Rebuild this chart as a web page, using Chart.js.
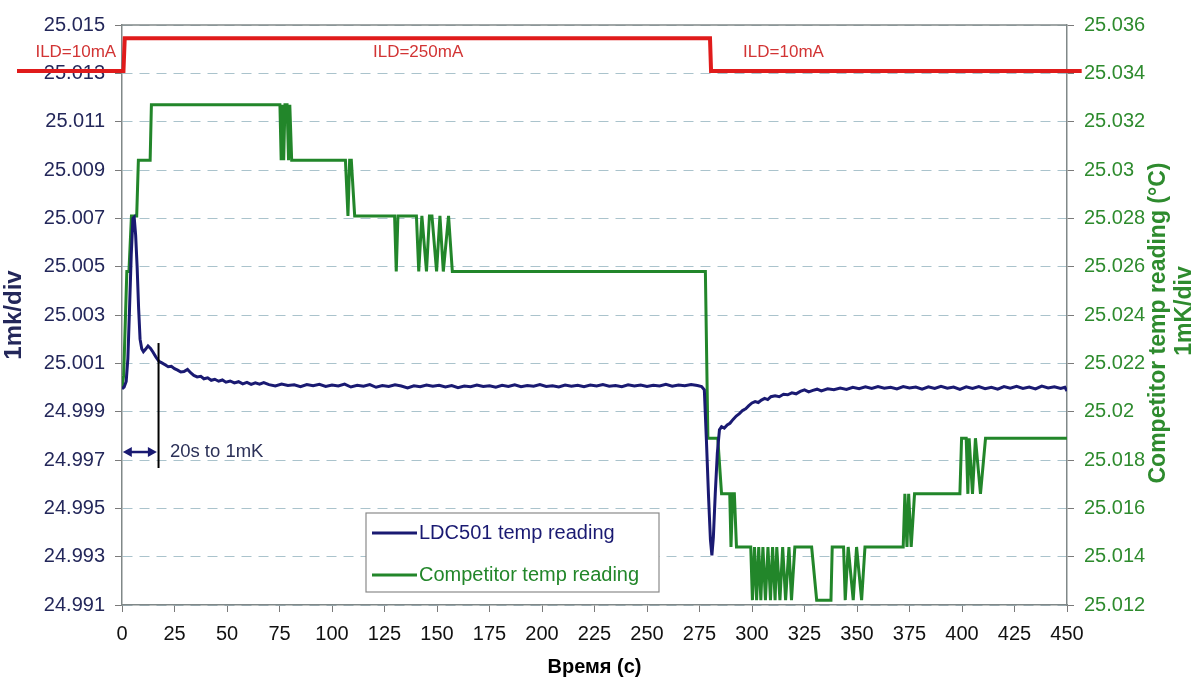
<!DOCTYPE html>
<html>
<head>
<meta charset="utf-8">
<script src="https://cdn.jsdelivr.net/npm/chart.js@4.4.1/dist/chart.umd.min.js"></script>
<style>
  html, body { margin: 0; padding: 0; background: #fff; }
</style>
</head>
<body>
<canvas id="chart" width="1196" height="684"></canvas>
<script>
// axis ticks
const xTicks = [0, 25, 50, 75, 100, 125, 150, 175, 200, 225, 250, 275, 300, 325, 350, 375, 400, 425, 450];
const leftTicks = [24.991, 24.993, 24.995, 24.997, 24.999, 25.001, 25.003, 25.005, 25.007, 25.009, 25.011, 25.013, 25.015];
const rightTicks = [25.012, 25.014, 25.016, 25.018, 25.02, 25.022, 25.024, 25.026, 25.028, 25.03, 25.032, 25.034, 25.036];

// LDC501 reading (left axis)
const ldcTime = [0, 1, 2, 2.8, 3.6, 4.4, 5.2, 5.8, 6.5, 7.2, 7.9, 8.6, 9.4, 10.2, 11.2, 12.4, 13.6, 14.8, 16.2, 17.6,
  19, 20.5, 22, 23.5, 25, 26.5, 28, 29.5, 31.2, 32.8, 34.2, 35.8, 37.5, 39, 40.8, 42.5, 44.2, 46, 47.8, 49.5,
  51.5, 53.5, 55.5, 57.5, 59.5, 61.5, 63.5, 65.5, 67.5,
  70, 73, 76, 79, 82, 85, 88, 91, 94, 97, 100, 103, 106, 109, 112, 115, 118, 121, 124, 127, 130, 133, 136, 139,
  142, 145, 148, 151, 154, 157, 160, 163, 166, 169, 172, 175, 178, 181, 184, 187, 190, 193, 196, 199, 202, 205,
  208, 211, 214, 217, 220, 223, 226, 229, 232, 235, 238, 241, 244, 247, 250, 253, 256, 259, 262, 265, 268, 271, 274,
  276, 277.3, 278.3, 279.3, 280.2, 280.9, 281.6, 282.5, 283.5, 284.5, 285.5, 286.8, 288.2, 289.5, 291, 292.5, 294,
  295.5, 297, 298.5, 300, 301.5, 303, 304.5, 306, 307.5, 309, 311, 313, 315, 317, 319, 321, 323, 325, 327, 329, 331,
  333, 336, 339, 342, 345, 348, 351, 354, 357, 360, 363, 366, 369, 372, 375, 378, 381, 384, 387, 390, 393, 396, 399,
  402, 405, 408, 411, 414, 417, 420, 423, 426, 429, 432, 435, 438, 441, 444, 447, 449, 450];
const ldcTemp = [24.99995, 25.00002, 25.00025, 25.0012, 25.0033, 25.0055, 25.007, 25.00705, 25.0063, 25.005, 25.0033,
  25.002, 25.0016, 25.00148, 25.00158, 25.00172, 25.00162, 25.00146, 25.00125, 25.00108,
  25.00102, 25.00094, 25.00086, 25.00088, 25.00078, 25.00072, 25.00064, 25.00066, 25.00075, 25.0006, 25.0005,
  25.00044, 25.00046, 25.00036, 25.0004, 25.0003, 25.00034, 25.00026, 25.00031, 25.00022,
  25.00027, 25.00019, 25.00024, 25.00015, 25.00021, 25.00013, 25.00019, 25.00014, 25.0002,
  25.00012, 25.00006, 25.00014, 25.00008, 25.00011, 25.00003, 25.00012, 25.00007, 25.00013, 25.00004, 25.0001,
  25.00006, 25.00014, 25.00002, 25.00009, 25.00005, 25.00012, 25.00001, 25.00008, 25.00004, 25.00011, 25.00006,
  24.99998, 25.00007, 25.00003, 25.0001, 25.00005, 25.00009, 25.00002, 25.00008, 24.99999, 25.00006, 25.00003,
  25.0001, 25.00004, 25.00007, 25.00001, 25.00009, 25.00004, 25.00011, 25.00003, 25.00008, 25.00005, 25.00012,
  25.00004, 25.00007, 25.00002, 25.0001, 25.00005, 25.00009, 25.00003, 25.0001, 25.00006, 25.00012, 25.00005,
  25.00008, 25.00003, 25.00011, 25.00006, 25.0001, 25.00004, 25.00009, 25.00006, 25.00013, 25.00005, 25.0001,
  25.00007, 25.00012, 25.00008,
  25.00004, 24.9999, 24.9978, 24.9955, 24.9937, 24.99305, 24.9938, 24.9956, 24.9973, 24.99825, 24.99838, 24.99832,
  24.99845, 24.99852, 24.99868, 24.99882, 24.99892, 24.99905, 24.99912, 24.99925, 24.99936, 24.99942, 24.99938,
  24.99948, 24.99955, 24.9995, 24.99962, 24.99966, 24.99962, 24.99972, 24.9997, 24.99978, 24.99974, 24.99984,
  24.9999, 24.99982, 24.99988, 24.99993, 24.99986, 24.99995, 24.99991, 24.99998, 24.99992, 25.00001, 24.99995,
  25.00003, 24.99996, 25.00004, 24.99997, 25.00001, 24.99994, 25.00004, 24.99998, 25.00002, 24.99993, 25.00003,
  24.99996, 25.00005, 24.99997, 25.00002, 24.99992, 25.00003, 24.99996, 25.00004, 24.99995, 25.00001, 24.99993,
  25.00004, 24.99997, 25.00005, 24.99996, 25.00002, 24.99994, 25.00006, 24.99998, 25.00003, 24.99996, 25.00001,
  24.99986];

// Competitor reading (right axis)
const compTime = [0, 0.8, 2.3, 3.3, 4.5, 7, 7.8, 13.4, 14, 75.2, 75.8, 76.4, 77, 77.6, 78.6, 79.3, 79.9, 80.8,
  106.4, 107.6, 108.4, 109.2, 110.8, 129.8, 130.6, 131.4, 140.2, 141.3, 142.8, 145, 146.4, 147.6, 149.8, 151.4,
  153, 155.5, 157.3, 277.8, 279, 283.7, 285.5, 289.4, 290, 290.8, 291.6, 292.6, 299.4, 300.2, 301.2, 302.2, 303.2,
  304.2, 305.2, 306.4, 307.6, 308.8, 309.8, 311, 311.8, 313.3, 314.6, 316, 317.6, 318.8, 320.4, 328.4, 330.8,
  337.6, 338.2, 343.6, 344.4, 345.8, 348.2, 349.8, 352.2, 353.8, 372, 372.8, 373.8, 374.6, 375.8, 377.4, 399,
  399.8, 402, 402.8, 403.4, 405, 406.4, 408.8, 411.2, 450];
const compTemp = [25.021, 25.0215, 25.0258, 25.0258, 25.0281, 25.0281, 25.0304, 25.0304, 25.0327, 25.0327, 25.0304,
  25.0327, 25.0304, 25.0327, 25.0327, 25.0304, 25.0327, 25.0304,
  25.0304, 25.0281, 25.0304, 25.0304, 25.0281, 25.0281, 25.0258, 25.0281, 25.0281, 25.0258, 25.0281, 25.0258,
  25.0281, 25.0281, 25.0258, 25.0281, 25.0258, 25.0281, 25.0258, 25.0258, 25.0189, 25.0189, 25.0166, 25.0166,
  25.0144, 25.0166, 25.0166, 25.0144, 25.0144, 25.0122, 25.0144, 25.0122, 25.0144, 25.0122, 25.0144, 25.0122,
  25.0144, 25.0122, 25.0144, 25.0122, 25.0144, 25.0122, 25.0144, 25.0122, 25.0144, 25.0122, 25.0144, 25.0144,
  25.0122, 25.0122, 25.0144, 25.0144, 25.0122, 25.0144, 25.0122, 25.0144, 25.0122, 25.0144, 25.0144, 25.0166,
  25.0144, 25.0166, 25.0144, 25.0166, 25.0166, 25.0189, 25.0189, 25.0166, 25.0189, 25.0166, 25.0189, 25.0166,
  25.0189, 25.0189];

// laser diode current steps (drawn on left axis)
const ildTime = [-50, 0.7, 1.3, 280, 280.5, 457];
const ildLevel = [25.0131, 25.0131, 25.01445, 25.01445, 25.0131, 25.0131];
const ildLabels = ['ILD=10mA', 'ILD=250mA', 'ILD=10mA'];
const ildLabelTime = [-22, 141, 315];

const FONT = "'Liberation Sans', Arial, sans-serif";
Chart.defaults.font.family = FONT;

const toPoints = (xs, ys) => xs.map((x, i) => ({ x: x, y: ys[i] }));
const fmt = v => String(+v.toFixed(3));

const overlay = {
    id: 'overlay',
    afterDatasetsDraw(chart) {
        const ctx = chart.ctx;
        const xs = chart.scales.x;
        const yl = chart.scales.y;
        const area = chart.chartArea;

        // top frame line
        ctx.save();
        ctx.strokeStyle = '#808888';
        ctx.lineWidth = 1.5;
        ctx.beginPath();
        ctx.moveTo(area.left, area.top);
        ctx.lineTo(area.right, area.top);
        ctx.stroke();

        // ILD labels
        ctx.fillStyle = '#d23434';
        ctx.font = '17px ' + FONT;
        ctx.textAlign = 'center';
        ctx.textBaseline = 'middle';
        ildLabels.forEach((t, i) => {
            ctx.fillText(t, xs.getPixelForValue(ildLabelTime[i]), yl.getPixelForValue(25.01385));
        });

        // "20s to 1mK" marker
        const xl = xs.getPixelForValue(17.4);
        ctx.strokeStyle = '#000';
        ctx.lineWidth = 2;
        ctx.beginPath();
        ctx.moveTo(xl, yl.getPixelForValue(25.00184));
        ctx.lineTo(xl, yl.getPixelForValue(24.99667));
        ctx.stroke();

        const ya = yl.getPixelForValue(24.99733);
        const x0 = xs.getPixelForValue(0.4);
        const x1 = xs.getPixelForValue(16.6);
        ctx.strokeStyle = '#1a1a72';
        ctx.fillStyle = '#1a1a72';
        ctx.lineWidth = 2.5;
        ctx.beginPath();
        ctx.moveTo(x0 + 4, ya);
        ctx.lineTo(x1 - 4, ya);
        ctx.stroke();
        [[x0, 1], [x1, -1]].forEach(([x, d]) => {
            ctx.beginPath();
            ctx.moveTo(x, ya);
            ctx.lineTo(x + d * 9, ya - 5);
            ctx.lineTo(x + d * 9, ya + 5);
            ctx.closePath();
            ctx.fill();
        });

        ctx.fillStyle = '#2c3158';
        ctx.font = '18.5px ' + FONT;
        ctx.textAlign = 'left';
        ctx.fillText('20s to 1mK', xs.getPixelForValue(22.8), ya);
        ctx.restore();
    },
    afterDraw(chart) {
        const ctx = chart.ctx;
        const area = chart.chartArea;
        ctx.save();

        // legend box
        const bx = area.left + 244, by = area.top + 488, bw = 293, bh = 79;
        ctx.fillStyle = '#fff';
        ctx.fillRect(bx, by, bw, bh);
        ctx.strokeStyle = '#8a8a8a';
        ctx.lineWidth = 1.2;
        ctx.strokeRect(bx, by, bw, bh);
        ctx.font = '20px ' + FONT;
        ctx.textBaseline = 'middle';
        ctx.textAlign = 'left';
        [1, 2].forEach((di, i) => {
            const ds = chart.data.datasets[di];
            const ly = by + 20 + i * 42;
            ctx.strokeStyle = ds.borderColor;
            ctx.lineWidth = 3;
            ctx.beginPath();
            ctx.moveTo(bx + 6, ly);
            ctx.lineTo(bx + 51, ly);
            ctx.stroke();
            ctx.fillStyle = ds.borderColor;
            ctx.fillText(ds.label, bx + 53, ly);
        });

        // right axis title, reads bottom to top
        const cy = (area.top + area.bottom) / 2;
        ctx.fillStyle = '#2e8b2e';
        ctx.font = 'bold 23px ' + FONT;
        ctx.textAlign = 'center';
        ctx.textBaseline = 'middle';
        ['Competitor temp reading (°C)', '1mK/div'].forEach((t, i) => {
            ctx.save();
            ctx.translate(area.right + 92 + i * 26, cy + (i === 0 ? 8 : -4));
            ctx.rotate(-Math.PI / 2);
            ctx.fillText(t, 0, 0);
            ctx.restore();
        });
        ctx.restore();
    }
};

new Chart(document.getElementById('chart'), {
    type: 'line',
    data: {
        datasets: [
            {
                label: 'ILD',
                data: toPoints(ildTime, ildLevel),
                yAxisID: 'y',
                borderColor: '#e01b1b',
                borderWidth: 4,
                pointRadius: 0,
                clip: false
            },
            {
                label: 'LDC501 temp reading',
                data: toPoints(ldcTime, ldcTemp),
                yAxisID: 'y',
                borderColor: '#1a1a72',
                borderWidth: 3,
                pointRadius: 0
            },
            {
                label: 'Competitor temp reading',
                data: toPoints(compTime, compTemp),
                yAxisID: 'y2',
                borderColor: '#22862a',
                borderWidth: 3,
                pointRadius: 0
            }
        ]
    },
    options: {
        responsive: false,
        animation: false,
        layout: { padding: { top: 25, left: 0, right: 0, bottom: 0 } },
        plugins: {
            legend: { display: false },
            tooltip: { enabled: false }
        },
        scales: {
            x: {
                type: 'linear',
                min: 0,
                max: 450,
                afterBuildTicks: s => { s.ticks = xTicks.map(v => ({ value: v })); },
                afterFit: s => { s.height = 79; },
                ticks: { autoSkip: false, maxRotation: 0, color: '#111', font: { size: 20 }, padding: 10 },
                grid: { drawOnChartArea: false, tickLength: 7, tickColor: '#7a7a7a' },
                border: { color: '#808888', width: 1.5 },
                title: {
                    display: true,
                    text: 'Время (с)',
                    color: '#000',
                    font: { size: 20, weight: 'bold' },
                    padding: { top: 0, bottom: 5 }
                }
            },
            y: {
                position: 'left',
                min: 24.991,
                max: 25.015,
                afterBuildTicks: s => { s.ticks = leftTicks.map(v => ({ value: v })); },
                afterFit: s => { s.width = 122; },
                ticks: { color: '#23275a', font: { size: 20 }, padding: 10, callback: fmt },
                grid: { color: '#aac3cc', lineWidth: 1, tickLength: 7, tickColor: '#7a7a7a' },
                border: { color: '#808888', width: 1.5, dash: [10, 7] },
                title: {
                    display: true,
                    text: '1mk/div',
                    color: '#23275a',
                    font: { size: 24, weight: 'bold' },
                    padding: { top: 0, bottom: 0 }
                }
            },
            y2: {
                position: 'right',
                min: 25.012,
                max: 25.036,
                afterBuildTicks: s => { s.ticks = rightTicks.map(v => ({ value: v })); },
                afterFit: s => { s.width = 129; },
                ticks: { color: '#2e8b2e', font: { size: 20 }, padding: 10, callback: fmt },
                grid: { drawOnChartArea: false, tickLength: 7, tickColor: '#7a7a7a' },
                border: { color: '#808888', width: 1.5 }
            }
        }
    },
    plugins: [overlay]
});
</script>
</body>
</html>
